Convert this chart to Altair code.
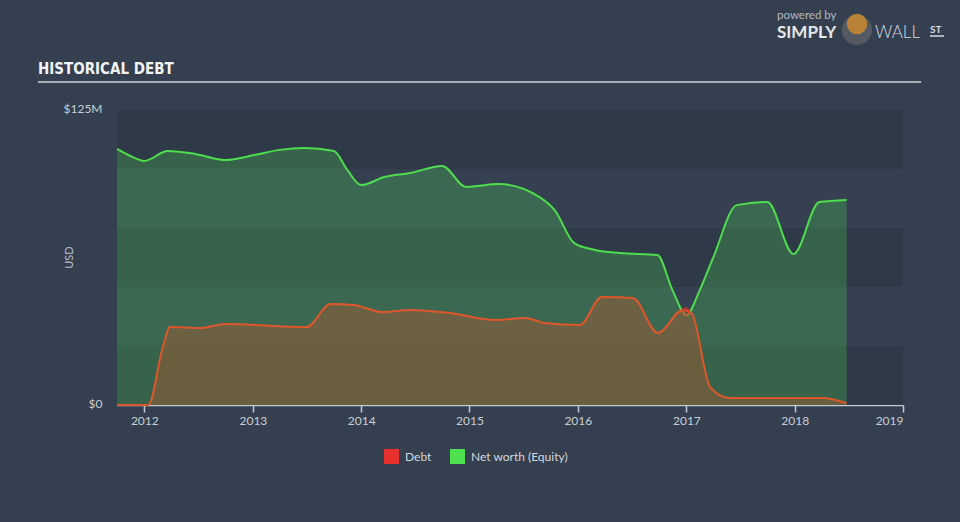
import altair as alt
import pandas as pd

# ---------------- data ----------------
equity_dates = ["2011-10-01", "2011-11-15", "2012-01-01", "2012-03-20", "2012-06-20",
                "2012-10-01", "2013-01-05", "2013-04-01", "2013-06-25", "2013-10-01",
                "2013-11-15", "2014-01-01", "2014-03-20", "2014-06-15", "2014-10-01",
                "2014-12-20", "2015-04-10", "2015-08-25", "2015-10-15", "2015-12-20",
                "2016-02-28", "2016-05-20", "2016-09-25", "2016-11-15", "2017-01-01",
                "2017-02-15", "2017-04-01", "2017-06-20", "2017-10-01", "2017-12-28",
                "2018-03-25", "2018-06-25"]
equity_values = [108.5, 105.5, 103.4, 107.6, 106.4,
                 103.8, 105.9, 108.1, 108.9, 107.6,
                 99.6, 93.2, 96.6, 98.3, 101.3,
                 92.4, 93.6, 88.1, 82.6, 68.6,
                 65.7, 64.4, 63.6, 48.7, 38.1,
                 48.7, 62.3, 84.7, 86.0, 64.0,
                 86.0, 86.9]

debt_dates = ["2011-10-01", "2012-01-15", "2012-03-01", "2012-03-28", "2012-07-07",
              "2012-10-01", "2013-07-01", "2013-09-20", "2013-12-05", "2014-03-15",
              "2014-06-15", "2014-10-27", "2015-03-28", "2015-07-08", "2015-09-12",
              "2016-01-08", "2016-03-22", "2016-07-05", "2016-09-27", "2016-12-20",
              "2017-01-18", "2017-03-22", "2017-05-26", "2018-04-05", "2018-06-25"]
debt_values = [0.0, 0.0, 23.3, 33.0, 32.6,
               34.3, 33.0, 42.8, 42.4, 39.4,
               40.3, 39.0, 36.0, 36.9, 34.7,
               33.9, 45.8, 45.3, 30.5, 40.3,
               39.0, 7.6, 3.0, 3.0, 0.8]

marker_dates = ["2016-12-30"]
marker_values = [39.6]

band_lows = [0, 50, 100]
band_highs = [25, 75, 125]

series_names = ["Debt", "Net worth (Equity)"]
legend_colors = ["#e8302c", "#4fe04f"]
y_ticks = [0, 125]

equity_df = pd.DataFrame({"date": equity_dates, "value": equity_values})
debt_df = pd.DataFrame({"date": debt_dates, "value": debt_values})
marker_df = pd.DataFrame({"date": marker_dates, "value": marker_values})
band_df = pd.DataFrame({"lo": band_lows, "hi": band_highs})
long_df = pd.concat([
    debt_df.assign(series=series_names[0]),
    equity_df.assign(series=series_names[1]),
])

# ---------------- style ----------------
W, H = 786, 295
BG = "#344050"
FONT = "Lato"
LABEL = "#c9ced4"

x_enc = alt.X(
    "date:T",
    scale=alt.Scale(domain=[alt.DateTime(year=2011, month=10, date=1),
                            alt.DateTime(year=2019, month=1, date=1)]),
    axis=alt.Axis(format="%Y", tickCount={"interval": "year", "step": 1},
                  title=None, grid=False, domainColor="#c4cad2", domainWidth=1.5,
                  tickColor="#c4cad2", tickSize=7, tickWidth=1.5, labelColor=LABEL,
                  labelFont=FONT, labelFontSize=12, labelPadding=3, labelFlush=True),
)


def y_enc(field):
    return alt.Y(
        field,
        scale=alt.Scale(domain=[0, 125], nice=False),
        axis=alt.Axis(values=y_ticks, domain=False, ticks=False, grid=False,
                      labelExpr="datum.value == 0 ? '$0' : '$' + datum.value + 'M'",
                      labelColor=LABEL, labelFont=FONT, labelFontSize=12,
                      labelPadding=15, labelOffset=-2, title="USD", titleColor="#b8bec6",
                      titleFont=FONT, titleFontSize=11, titleFontWeight="normal",
                      titleAngle=270, titleAlign="center", titleBaseline="middle",
                      titleX=-48, titleY=147),
    )


bands = alt.Chart(band_df).mark_rect(color="#2e3a48").encode(
    y=y_enc("lo:Q"), y2="hi:Q", x=alt.value(0), x2=alt.value(W)
)

equity_area = alt.Chart(equity_df).mark_area(
    interpolate="monotone", fill="#4fe04f", fillOpacity=0.25
).encode(x=x_enc, y=y_enc("value:Q"))

debt_area = alt.Chart(debt_df).mark_area(
    interpolate="monotone", fill="#c8582a", fillOpacity=0.35
).encode(x=x_enc, y=y_enc("value:Q"))

equity_line = alt.Chart(equity_df).mark_line(
    interpolate="monotone", color="#4fdc4f", strokeWidth=2
).encode(x=x_enc, y=y_enc("value:Q"))

debt_line = alt.Chart(debt_df).mark_line(
    interpolate="monotone", color="#e0562b", strokeWidth=2
).encode(x=x_enc, y=y_enc("value:Q"))

marker = alt.Chart(marker_df).mark_point(
    shape="circle", filled=False, color="#e8302c", strokeWidth=2, size=45
).encode(x=x_enc, y=y_enc("value:Q"))

legend_layer = alt.Chart(long_df).mark_square(opacity=0, size=225).encode(
    x=x_enc, y=y_enc("value:Q"),
    color=alt.Color("series:N", scale=alt.Scale(domain=series_names, range=legend_colors),
                    legend=alt.Legend(orient="none", legendX=267, legendY=339,
                                      direction="horizontal", title=None,
                                      symbolType="square", symbolSize=225,
                                      symbolOpacity=1, symbolStrokeWidth=0,
                                      labelColor="#d3d7dc", labelFont=FONT,
                                      labelFontSize=12, labelOffset=6,
                                      columnPadding=18)),
)


def label(txt, x, y, size, color, weight="normal", font=FONT, align="left"):
    return alt.Chart(pd.DataFrame({"t": [txt]})).mark_text(
        align=align, baseline="alphabetic", fontSize=size, color=color,
        fontWeight=weight, font=font
    ).encode(text="t:N", x=alt.value(x), y=alt.value(y))


title = label("HISTORICAL DEBT", -79, -36, 15, "#f2f3f4", "bold",
              "DejaVu Sans Condensed, Liberation Sans Narrow, sans-serif")
underline = alt.Chart(pd.DataFrame({"t": [0]})).mark_rule(
    color="#a9b0b8", strokeWidth=2
).encode(x=alt.value(-79), x2=alt.value(804), y=alt.value(-28))

powered = label("powered by", 660, -91, 11.5, "#b3b9c1")
simply = label("SIMPLY", 660, -72, 17, "#e6e8ea", "bold")
wall = label("WALL", 758, -72, 17, "#d8dce0", 300)
st = label("ST", 813, -77, 10, "#d8dce0", "bold")
st_rule = alt.Chart(pd.DataFrame({"t": [0]})).mark_rule(
    color="#d8dce0", strokeWidth=1.5
).encode(x=alt.value(813), x2=alt.value(827), y=alt.value(-74))
logo_ring = alt.Chart(pd.DataFrame({"t": [0]})).mark_point(
    shape="circle", filled=True, color="#555a62", size=900, opacity=1
).encode(x=alt.value(740), y=alt.value(-80))
logo_face = alt.Chart(pd.DataFrame({"t": [0]})).mark_point(
    shape="circle", filled=True, color="#b78235", size=420, opacity=1
).encode(x=alt.value(740), y=alt.value(-86))

chart = alt.layer(
    bands, equity_area, debt_area, equity_line, debt_line, marker, legend_layer,
    title, underline, powered, simply, wall, st, st_rule, logo_ring, logo_face,
).properties(
    width=W, height=H,
    autosize=alt.AutoSizeParams(type="none"),
    padding={"left": 117, "top": 110, "right": 57, "bottom": 117},
    background=BG,
).configure_view(fill="#354150", strokeWidth=0)

chart.save("out.html", embed_options={"renderer": "svg", "actions": False})
